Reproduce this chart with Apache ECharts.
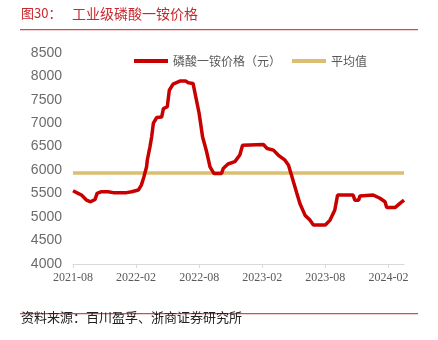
<!DOCTYPE html>
<html>
<head>
<meta charset="utf-8">
<script src="https://cdn.jsdelivr.net/npm/echarts@6/dist/echarts.min.js"></script>
<style>
  html, body { margin: 0; padding: 0; background: #fff; }
  #chart { width: 438px; height: 340px; }
</style>
</head>
<body>
<div id="chart"></div>
<script>
// Weekly-ish observations of industrial MAP price (yuan/ton)
const dates = [
  '2021-08-01','2021-08-16','2021-08-26','2021-09-10','2021-09-21','2021-10-04','2021-10-10',
  '2021-10-23','2021-11-11','2021-11-26','2022-01-04','2022-01-19','2022-02-07','2022-02-15',
  '2022-02-22','2022-03-01','2022-03-03','2022-03-11','2022-03-16','2022-03-21','2022-03-31',
  '2022-04-14','2022-04-19','2022-04-30','2022-05-06','2022-05-17','2022-06-06','2022-06-23',
  '2022-06-30','2022-07-14','2022-07-22','2022-08-01','2022-08-11','2022-08-23','2022-09-02',
  '2022-09-13','2022-10-05','2022-10-10','2022-10-24','2022-11-13','2022-11-27','2022-12-05',
  '2023-02-04','2023-02-14','2023-03-03','2023-03-17','2023-04-06','2023-04-16','2023-04-23',
  '2023-04-30','2023-05-10','2023-05-19','2023-06-03','2023-06-17','2023-06-27','2023-08-01',
  '2023-08-15','2023-08-29','2023-09-06','2023-10-21','2023-10-26','2023-11-06','2023-11-10',
  '2023-12-18','2024-01-07','2024-01-22','2024-01-27','2024-02-20','2024-03-04','2024-03-16'
];
const prices = [
  5560,5505,5470,5360,5325,5375,5505,
  5540,5540,5520,5520,5540,5575,5680,
  5860,6070,6210,6500,6710,7000,7120,
  7130,7310,7350,7700,7830,7895,7895,
  7860,7845,7560,7205,6710,6390,6070,
  5930,5930,6035,6130,6180,6320,6530,
  6545,6460,6425,6320,6210,6105,5930,
  5750,5505,5290,5040,4935,4830,4830,
  4935,5150,5470,5470,5360,5360,5450,
  5470,5400,5325,5205,5205,5290,5360
];
const averagePrice = 5940;
const xTickLabels = ['2021-08','2022-02','2022-08','2023-02','2023-08','2024-02'];
const yTicks = [4000,4500,5000,5500,6000,6500,7000,7500,8000,8500];

const seriesName = '磷酸一铵价格（元）';
const avgName = '平均值';

// months elapsed since the first label month, with day fraction
const baseY = 2021, baseM = 8;
function monthPos(s) {
  const [y, m, d] = s.split('-').map(Number);
  const dim = new Date(y, m, 0).getDate();
  return (y - baseY) * 12 + (m - baseM) + (d - 1) / dim;
}
function posLabel(v) {
  const total = Math.round(v) + (baseM - 1);
  const y = baseY + Math.floor(total / 12);
  const m = (total % 12) + 1;
  return y + '-' + String(m).padStart(2, '0');
}

const tickPos = xTickLabels.map(l => monthPos(l + '-01'));
const priceData = dates.map((d, i) => [monthPos(d), prices[i]]);
const xEnd = monthPos(dates[dates.length - 1]);
const avgData = [[0, averagePrice], [xEnd, averagePrice]];

const chart = echarts.init(document.getElementById('chart'), null, { renderer: 'canvas' });
chart.setOption({
  animation: false,
  backgroundColor: '#fff',
  graphic: [
    { type: 'text', left: 21, top: 7, style: { text: '图30：', font: '13px "Noto Sans CJK SC"', fill: '#C8282E' } },
    { type: 'text', left: 72, top: 7, style: { text: '工业级磷酸一铵价格', font: '14px "Noto Sans CJK SC"', fill: '#C8282E' } },
    { type: 'rect', left: 20, top: 29, shape: { width: 398, height: 1.2 }, style: { fill: '#D9474C' } },
    { type: 'rect', left: 20, top: 313, shape: { width: 398, height: 1.2 }, style: { fill: '#D9474C' } },
    { type: 'text', left: 21, top: 311, style: { text: '资料来源：百川盈孚、浙商证券研究所', font: '13px "Noto Sans CJK SC"', fill: '#222' } }
  ],
  legend: {
    left: 129, top: 50,
    icon: 'rect',
    itemWidth: 34, itemHeight: 4, itemGap: 11,
    textStyle: { fontFamily: 'Noto Sans CJK SC', fontSize: 12, color: '#595959' },
    data: [seriesName, avgName]
  },
  grid: { left: 73, right: 34, top: 52.7, bottom: 76, containLabel: false },
  xAxis: {
    type: 'value', min: 0, max: xEnd,
    splitLine: { show: false },
    axisLine: { show: true, lineStyle: { color: '#D9D9D9', width: 1 } },
    axisTick: { show: true, customValues: tickPos, length: 4, lineStyle: { color: '#D9D9D9' } },
    axisLabel: {
      customValues: tickPos, formatter: v => posLabel(v),
      fontFamily: 'Liberation Serif', fontSize: 12, color: '#595959', margin: 8
    }
  },
  yAxis: {
    type: 'value', min: yTicks[0], max: yTicks[yTicks.length - 1], interval: 500,
    splitLine: { show: false },
    axisLine: { show: false }, axisTick: { show: false },
    axisLabel: { fontFamily: 'Liberation Sans', fontSize: 14, color: '#6B6B6B', margin: 11, formatter: v => String(v) }
  },
  series: [
    {
      name: seriesName, type: 'line', data: priceData, showSymbol: false, symbol: 'none',
      lineStyle: { color: '#C80000', width: 3.5 }, itemStyle: { color: '#C80000' }, z: 3
    },
    {
      name: avgName, type: 'line', data: avgData, showSymbol: false, symbol: 'none',
      lineStyle: { color: '#DBBE72', width: 3.5 }, itemStyle: { color: '#DBBE72' }, z: 2
    }
  ]
});
</script>
</body>
</html>
